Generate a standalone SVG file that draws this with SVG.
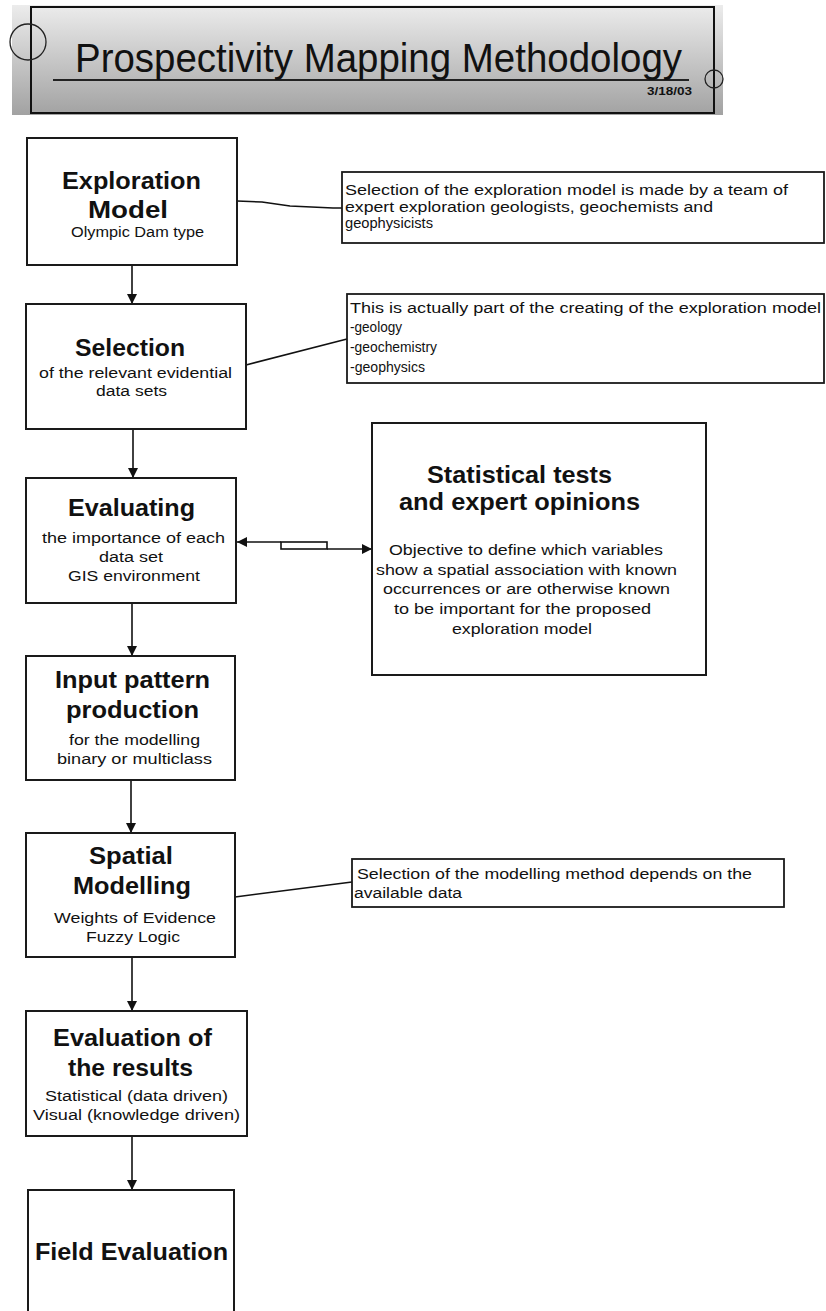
<svg xmlns="http://www.w3.org/2000/svg" width="826" height="1311" viewBox="0 0 826 1311">
<defs>
  <linearGradient id="bannerGrad" x1="0" y1="0" x2="0" y2="1">
    <stop offset="0" stop-color="#ececec"/>
    <stop offset="1" stop-color="#a2a2a2"/>
  </linearGradient>
  <marker id="arrow" viewBox="0 0 10 10" refX="10" refY="5" markerWidth="10" markerHeight="10" markerUnits="userSpaceOnUse" orient="auto-start-reverse">
    <path d="M0,0 L10,5 L0,10 z" fill="#111"/>
  </marker>
  <style>
    .box { fill:#fff; stroke:#1a1a1a; stroke-width:2; }
    .note { fill:#fff; stroke:#1a1a1a; stroke-width:1.8; }
    .t { font-family:"Liberation Sans", Arial, sans-serif; fill:#111; }
    .h { font-weight:bold; font-size:24px; }
    .s { font-size:14px; }
    .n { font-size:14px; }
    .conn { fill:none; stroke:#111; stroke-width:1.6; }
  </style>
</defs>
<rect x="0" y="0" width="826" height="1311" fill="#fff"/>

<g id="title">
  <rect x="12" y="5" width="711" height="110" fill="url(#bannerGrad)"/>
  <rect x="31" y="7" width="683" height="106" fill="none" stroke="#111" stroke-width="2"/>
  <ellipse cx="28" cy="42" rx="18" ry="18" fill="none" stroke="#222" stroke-width="1.3"/>
  <ellipse cx="714" cy="79" rx="9" ry="9" fill="none" stroke="#222" stroke-width="1.3"/>
  <line x1="53" y1="80" x2="689" y2="80" stroke="#222" stroke-width="2"/>
  <text class="t" x="75" y="72" font-size="41" textLength="607" lengthAdjust="spacingAndGlyphs">Prospectivity Mapping Methodology</text>
  <text class="t" x="647" y="95" font-size="11" font-weight="bold" textLength="45" lengthAdjust="spacingAndGlyphs">3/18/03</text>
</g>

<g id="connectors">
  <line class="conn" x1="132" y1="265" x2="132" y2="304" marker-end="url(#arrow)"/>
  <line class="conn" x1="133" y1="429" x2="133" y2="478" marker-end="url(#arrow)"/>
  <line class="conn" x1="132" y1="603" x2="132" y2="656" marker-end="url(#arrow)"/>
  <line class="conn" x1="131" y1="780" x2="131" y2="833" marker-end="url(#arrow)"/>
  <line class="conn" x1="132" y1="957" x2="132" y2="1011" marker-end="url(#arrow)"/>
  <line class="conn" x1="132" y1="1136" x2="132" y2="1190" marker-end="url(#arrow)"/>
  <polyline class="conn" points="237,201 262,202 290,206 333,208 342,208"/>
  <line class="conn" x1="246" y1="365" x2="347" y2="339"/>
  <line class="conn" x1="235" y1="897" x2="352" y2="882"/>
  <path class="conn" d="M281,542 H237" marker-end="url(#arrow)"/>
  <rect x="281" y="542" width="46" height="7" fill="#fff" stroke="#111" stroke-width="1.6"/>
  <path class="conn" d="M327,549 H372" marker-end="url(#arrow)"/>
</g>

<g id="exploration-model">
  <rect class="box" x="27" y="138" width="210" height="127"/>
  <text class="t h" x="62" y="189" font-size="23" textLength="139" lengthAdjust="spacingAndGlyphs">Exploration</text>
  <text class="t h" x="88" y="218" font-size="23" textLength="80" lengthAdjust="spacingAndGlyphs">Model</text>
  <text class="t s" x="71" y="237" textLength="133" lengthAdjust="spacingAndGlyphs">Olympic  Dam type</text>
</g>

<g id="note-exploration">
  <rect class="note" x="342" y="172" width="482" height="71"/>
  <text class="t n" x="345" y="195" textLength="443" lengthAdjust="spacingAndGlyphs">Selection of the exploration model is made by a team of</text>
  <text class="t n" x="345" y="212" textLength="368" lengthAdjust="spacingAndGlyphs">expert exploration geologists, geochemists and</text>
  <text class="t n" x="345" y="228" textLength="88" lengthAdjust="spacingAndGlyphs">geophysicists</text>
</g>

<g id="selection">
  <rect class="box" x="26" y="304" width="220" height="125"/>
  <text class="t h" x="75" y="356" textLength="110" lengthAdjust="spacingAndGlyphs">Selection</text>
  <text class="t s" x="39" y="378" textLength="193" lengthAdjust="spacingAndGlyphs">of the relevant evidential</text>
  <text class="t s" x="96" y="396" textLength="71" lengthAdjust="spacingAndGlyphs">data sets</text>
</g>

<g id="note-selection">
  <rect class="note" x="347" y="294" width="477" height="89"/>
  <text class="t n" x="350" y="313" textLength="471" lengthAdjust="spacingAndGlyphs">This is actually part of the creating of the exploration model</text>
  <text class="t n" x="350" y="332" textLength="52" lengthAdjust="spacingAndGlyphs">-geology</text>
  <text class="t n" x="350" y="352" textLength="87" lengthAdjust="spacingAndGlyphs">-geochemistry</text>
  <text class="t n" x="350" y="372" textLength="75" lengthAdjust="spacingAndGlyphs">-geophysics</text>
</g>

<g id="evaluating">
  <rect class="box" x="26" y="478" width="210" height="125"/>
  <text class="t h" x="68" y="516" textLength="127" lengthAdjust="spacingAndGlyphs">Evaluating</text>
  <text class="t s" x="42" y="543" textLength="183" lengthAdjust="spacingAndGlyphs">the importance of each</text>
  <text class="t s" x="99" y="562" textLength="64" lengthAdjust="spacingAndGlyphs">data set</text>
  <text class="t s" x="68" y="581" textLength="132" lengthAdjust="spacingAndGlyphs">GIS environment</text>
</g>

<g id="statistical-tests">
  <rect class="box" x="372" y="423" width="334" height="252"/>
  <text class="t h" x="427" y="483" font-size="25" textLength="185" lengthAdjust="spacingAndGlyphs">Statistical tests</text>
  <text class="t h" x="399" y="510" font-size="25" textLength="241" lengthAdjust="spacingAndGlyphs">and expert opinions</text>
  <text class="t s" x="389" y="555" font-size="15" textLength="274" lengthAdjust="spacingAndGlyphs">Objective to define which variables</text>
  <text class="t s" x="376" y="575" font-size="15" textLength="301" lengthAdjust="spacingAndGlyphs">show a spatial association with known</text>
  <text class="t s" x="383" y="594" font-size="15" textLength="287" lengthAdjust="spacingAndGlyphs">occurrences or are otherwise known</text>
  <text class="t s" x="394" y="614" font-size="15" textLength="257" lengthAdjust="spacingAndGlyphs">to be important for the proposed</text>
  <text class="t s" x="452" y="634" font-size="15" textLength="140" lengthAdjust="spacingAndGlyphs">exploration model</text>
</g>

<g id="input-pattern">
  <rect class="box" x="26" y="656" width="209" height="124"/>
  <text class="t h" x="55" y="688" textLength="155" lengthAdjust="spacingAndGlyphs">Input pattern</text>
  <text class="t h" x="66" y="718" textLength="133" lengthAdjust="spacingAndGlyphs">production</text>
  <text class="t s" x="69" y="745" textLength="131" lengthAdjust="spacingAndGlyphs">for the modelling</text>
  <text class="t s" x="57" y="764" textLength="155" lengthAdjust="spacingAndGlyphs">binary or multiclass</text>
</g>

<g id="spatial-modelling">
  <rect class="box" x="26" y="833" width="209" height="124"/>
  <text class="t h" x="89" y="864" textLength="84" lengthAdjust="spacingAndGlyphs">Spatial</text>
  <text class="t h" x="73" y="894" textLength="118" lengthAdjust="spacingAndGlyphs">Modelling</text>
  <text class="t s" x="54" y="923" textLength="162" lengthAdjust="spacingAndGlyphs">Weights of Evidence</text>
  <text class="t s" x="86" y="942" textLength="94" lengthAdjust="spacingAndGlyphs">Fuzzy Logic</text>
</g>

<g id="note-modelling">
  <rect class="note" x="352" y="859" width="432" height="48"/>
  <text class="t n" x="357" y="879" textLength="395" lengthAdjust="spacingAndGlyphs">Selection of the modelling method depends on the</text>
  <text class="t n" x="354" y="898" textLength="108" lengthAdjust="spacingAndGlyphs">available data</text>
</g>

<g id="evaluation-results">
  <rect class="box" x="26" y="1011" width="221" height="125"/>
  <text class="t h" x="53" y="1046" textLength="159" lengthAdjust="spacingAndGlyphs">Evaluation of</text>
  <text class="t h" x="68" y="1076" textLength="125" lengthAdjust="spacingAndGlyphs">the results</text>
  <text class="t s" x="45" y="1101" font-size="15" textLength="183" lengthAdjust="spacingAndGlyphs">Statistical (data driven)</text>
  <text class="t s" x="33" y="1120" font-size="15" textLength="207" lengthAdjust="spacingAndGlyphs">Visual (knowledge driven)</text>
</g>

<g id="field-evaluation">
  <rect class="box" x="28" y="1190" width="206" height="140"/>
  <text class="t h" x="35" y="1260" font-size="25" textLength="193" lengthAdjust="spacingAndGlyphs">Field Evaluation</text>
</g>
</svg>
